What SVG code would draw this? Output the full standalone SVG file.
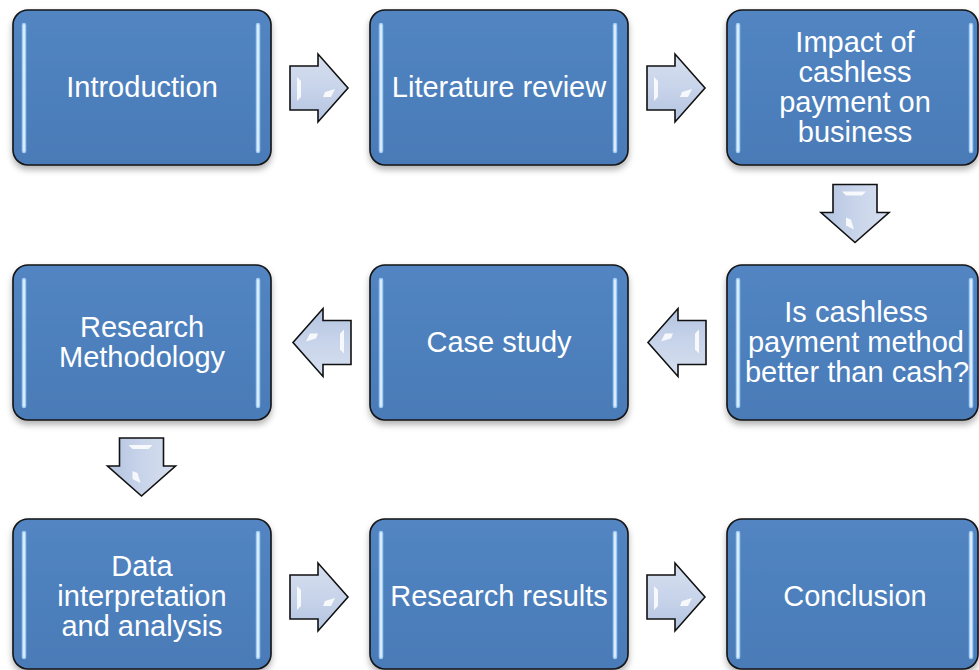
<svg xmlns="http://www.w3.org/2000/svg" xmlns:xlink="http://www.w3.org/1999/xlink" width="979" height="670" viewBox="0 0 979 670">
  <style>
    .box { fill: url(#boxFill); stroke: #141414; stroke-width: 1.6; filter: url(#shadow); }
    .rim { fill: none; stroke: #6E9AD0; stroke-width: 1; opacity: 0.7; }
    .glow { stroke: #9FCBF4; stroke-width: 4.5; stroke-linecap: round; }
    .core { stroke: #F4FAFF; stroke-width: 1.4; stroke-linecap: round; }
    .lbl { font-family: "Liberation Sans", Arial, sans-serif; font-size: 29px; fill: #FFFFFF; text-anchor: middle; }
    .arrow-body { fill: url(#arrowFill); stroke: #111; stroke-width: 1.6; stroke-linejoin: miter; }
    .shine { fill: #FFFFFF; opacity: 0.85; }
  </style>
  <defs>
    <linearGradient id="boxFill" x1="0" y1="0" x2="0" y2="1">
      <stop offset="0" stop-color="#5285C2"/>
      <stop offset="0.5" stop-color="#4D80BD"/>
      <stop offset="1" stop-color="#4A7BB7"/>
    </linearGradient>
    <linearGradient id="arrowFill" x1="0" y1="0" x2="0" y2="1">
      <stop offset="0" stop-color="#D6DFEF"/>
      <stop offset="0.5" stop-color="#C8D4EA"/>
      <stop offset="1" stop-color="#B3C3E0"/>
    </linearGradient>
    <filter id="shadow" x="-10%" y="-10%" width="120%" height="125%">
      <feDropShadow dx="0" dy="4" stdDeviation="3" flood-color="#000" flood-opacity="0.3"/>
    </filter>
    <!-- block arrow pointing right, centred on the origin -->
    <g id="blockArrow">
      <path class="arrow-body" d="M -29 -22 H -1 V -34 L 29 0 L -1 34 V 22 H -29 Z"/>
      <path class="shine" d="M -22 -11 L -18 -7 L -18 9 L -22 13 Z"/>
      <path class="shine" d="M 6 4 L 16 1 L 12 9 L 4 9 Z" opacity="0.75"/>
    </g>
  </defs>

  <!-- connectors -->
  <g id="connectors">
    <use xlink:href="#blockArrow" transform="translate(319,88)"/>
    <use xlink:href="#blockArrow" transform="translate(676,88)"/>
    <use xlink:href="#blockArrow" transform="translate(855,213.5) rotate(90)"/>
    <use xlink:href="#blockArrow" transform="translate(677,342.5) rotate(180)"/>
    <use xlink:href="#blockArrow" transform="translate(322,342.5) rotate(180)"/>
    <use xlink:href="#blockArrow" transform="translate(141.5,467) rotate(90)"/>
    <use xlink:href="#blockArrow" transform="translate(319,597) rotate(0)"/>
    <use xlink:href="#blockArrow" transform="translate(676,597)"/>
  </g>

  <!-- row 1 -->
  <g id="introduction">
    <rect class="box" x="13" y="10" width="258" height="155" rx="15"/>
    <line class="glow" x1="24" y1="25" x2="24" y2="151"/><line class="core" x1="24" y1="25" x2="24" y2="151"/>
    <line class="glow" x1="258" y1="25" x2="258" y2="151"/><line class="core" x1="258" y1="25" x2="258" y2="151"/>
    <text class="lbl" x="142" y="97">Introduction</text>
  </g>
  <g id="literature-review">
    <rect class="box" x="370" y="10" width="258" height="155" rx="15"/>
    <line class="glow" x1="381" y1="25" x2="381" y2="151"/><line class="core" x1="381" y1="25" x2="381" y2="151"/>
    <line class="glow" x1="615" y1="25" x2="615" y2="151"/><line class="core" x1="615" y1="25" x2="615" y2="151"/>
    <text class="lbl" x="499" y="97">Literature review</text>
  </g>
  <g id="impact">
    <rect class="box" x="727" y="10" width="251" height="155" rx="15"/>
    <line class="glow" x1="738" y1="25" x2="738" y2="151"/><line class="core" x1="738" y1="25" x2="738" y2="151"/>
    <line class="glow" x1="971" y1="25" x2="971" y2="151"/><line class="core" x1="971" y1="25" x2="971" y2="151"/>
    <text class="lbl" x="855" y="52"><tspan x="855">Impact of</tspan><tspan x="855" dy="30">cashless</tspan><tspan x="855" dy="30">payment on</tspan><tspan x="855" dy="30">business</tspan></text>
  </g>

  <!-- row 2 -->
  <g id="research-methodology">
    <rect class="box" x="13" y="265" width="258" height="155" rx="15"/>
    <line class="glow" x1="24" y1="280" x2="24" y2="406"/><line class="core" x1="24" y1="280" x2="24" y2="406"/>
    <line class="glow" x1="258" y1="280" x2="258" y2="406"/><line class="core" x1="258" y1="280" x2="258" y2="406"/>
    <text class="lbl" x="142" y="337"><tspan x="142">Research</tspan><tspan x="142" dy="30">Methodology</tspan></text>
  </g>
  <g id="case-study">
    <rect class="box" x="370" y="265" width="258" height="155" rx="15"/>
    <line class="glow" x1="381" y1="280" x2="381" y2="406"/><line class="core" x1="381" y1="280" x2="381" y2="406"/>
    <line class="glow" x1="615" y1="280" x2="615" y2="406"/><line class="core" x1="615" y1="280" x2="615" y2="406"/>
    <text class="lbl" x="499" y="352">Case study</text>
  </g>
  <g id="cashless-vs-cash">
    <rect class="box" x="727" y="265" width="251" height="155" rx="15"/>
    <line class="glow" x1="738" y1="280" x2="738" y2="406"/><line class="core" x1="738" y1="280" x2="738" y2="406"/>
    <line class="glow" x1="971" y1="280" x2="971" y2="406"/><line class="core" x1="971" y1="280" x2="971" y2="406"/>
    <text class="lbl" x="856" y="322"><tspan x="856">Is cashless</tspan><tspan x="856" dy="30">payment method</tspan><tspan x="857" dy="30">better than cash?</tspan></text>
  </g>

  <!-- row 3 -->
  <g id="data-analysis">
    <rect class="box" x="13" y="519" width="258" height="150" rx="15"/>
    <line class="glow" x1="24" y1="533" x2="24" y2="657"/><line class="core" x1="24" y1="533" x2="24" y2="657"/>
    <line class="glow" x1="258" y1="533" x2="258" y2="657"/><line class="core" x1="258" y1="533" x2="258" y2="657"/>
    <text class="lbl" x="142" y="576"><tspan x="142">Data</tspan><tspan x="142" dy="30">interpretation</tspan><tspan x="142" dy="30">and analysis</tspan></text>
  </g>
  <g id="research-results">
    <rect class="box" x="370" y="519" width="258" height="150" rx="15"/>
    <line class="glow" x1="381" y1="533" x2="381" y2="657"/><line class="core" x1="381" y1="533" x2="381" y2="657"/>
    <line class="glow" x1="615" y1="533" x2="615" y2="657"/><line class="core" x1="615" y1="533" x2="615" y2="657"/>
    <text class="lbl" x="499" y="606">Research results</text>
  </g>
  <g id="conclusion">
    <rect class="box" x="727" y="519" width="251" height="150" rx="15"/>
    <line class="glow" x1="738" y1="533" x2="738" y2="657"/><line class="core" x1="738" y1="533" x2="738" y2="657"/>
    <line class="glow" x1="971" y1="533" x2="971" y2="657"/><line class="core" x1="971" y1="533" x2="971" y2="657"/>
    <text class="lbl" x="855" y="606">Conclusion</text>
  </g>
</svg>
